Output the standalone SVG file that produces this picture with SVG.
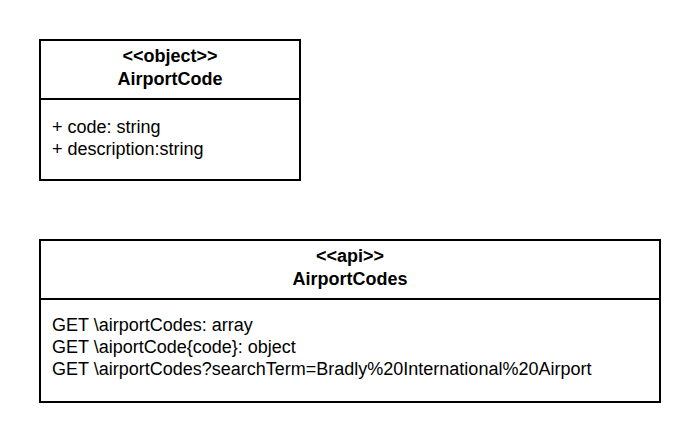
<svg xmlns="http://www.w3.org/2000/svg" width="700" height="442" viewBox="0 0 700 442">
<style>
.box{fill:#fff;stroke:#000;stroke-width:2}
.div{stroke:#000;stroke-width:2}
.t{font-family:"Liberation Sans",Arial,sans-serif;font-size:18px;fill:#000}
.h{font-weight:bold;text-anchor:middle}
</style>
<rect width="700" height="442" fill="#fff"/>
<g id="AirportCode">
<rect class="box" x="40" y="40" width="260" height="140"/>
<line class="div" x1="40" y1="99" x2="300" y2="99"/>
<text class="t h" x="170" y="62">&lt;&lt;object&gt;&gt;</text>
<text class="t h" x="170" y="85">AirportCode</text>
<text class="t" x="52" y="133">+ code: string</text>
<text class="t" x="52" y="155">+ description:string</text>
</g>
<g id="AirportCodes">
<rect class="box" x="40" y="240" width="620" height="162"/>
<line class="div" x1="40" y1="299" x2="660" y2="299"/>
<text class="t h" x="350" y="262">&lt;&lt;api&gt;&gt;</text>
<text class="t h" x="350" y="285">AirportCodes</text>
<text class="t" x="52" y="331">GET \airportCodes: array</text>
<text class="t" x="52" y="353">GET \aiportCode{code}: object</text>
<text class="t" x="52" y="375">GET \airportCodes?searchTerm=Bradly%20International%20Airport</text>
</g>
<g id="connectors"></g>
</svg>
